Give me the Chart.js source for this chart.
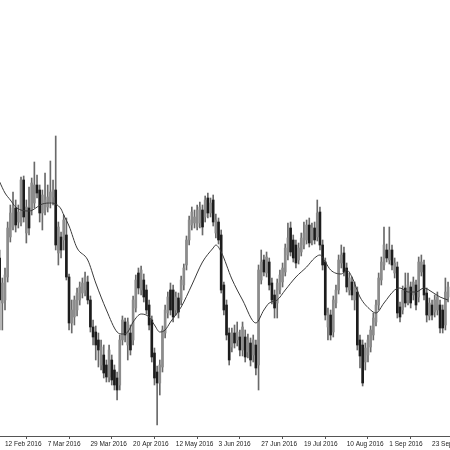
<!DOCTYPE html>
<html>
<head>
<meta charset="utf-8">
<script src="https://cdn.jsdelivr.net/npm/chart.js@4.4.1/dist/chart.umd.min.js"></script>
<style>
html,body{margin:0;padding:0;background:#fff;}
#c{display:block;}
</style>
</head>
<body>
<canvas id="c" width="450" height="450"></canvas>
<script>
// Daily candles, one per trading day (index 0 = 10 Feb 2016)
const openV = [
178,133,136,159,199,209,228,214,213,256,
203,228,226,233,251,246,223,226,229,234,
239,246,183,199,196,201,159,113,119,126,
136,143,146,154,136,109,104,96,71,81,
71,59,76,66,58,51,96,114,91,103,
96,128,163,146,156,146,131,116,83,64,
53,69,103,123,146,146,126,138,136,151,
171,196,211,213,209,213,226,219,238,223,
236,203,214,201,151,131,103,89,103,96,
99,86,99,84,93,81,91,71,156,176,
163,174,153,141,133,146,154,164,181,208,
196,191,176,184,191,196,211,196,208,199,
224,191,174,109,121,104,133,146,173,183,
168,146,154,136,144,96,91,74,81,89,
101,114,131,156,171,186,176,186,163,169,
129,126,148,136,149,141,151,139,164,171,
143,120,131,124,126,131,126,111,139];
const highV = [
186,158,168,214,231,244,236,231,259,260,
236,249,258,274,261,251,246,263,251,275,
256,300,214,204,221,218,162,136,140,148,
154,158,164,160,140,116,110,103,96,91,
76,91,81,71,64,101,120,118,118,111,
140,161,168,170,162,151,136,120,88,70,
76,110,131,144,153,151,144,143,160,172,
200,220,229,226,231,234,231,240,243,238,
241,222,218,206,154,136,108,108,111,114,
106,114,106,102,98,101,96,171,186,181,
184,178,158,146,157,166,173,192,213,214,
201,196,193,203,214,216,218,213,214,236,
229,196,178,128,126,140,151,181,191,189,
173,163,159,154,149,101,96,93,101,110,
123,136,163,179,209,192,209,191,178,174,
134,150,163,163,154,159,156,179,181,176,
148,138,136,141,144,136,131,158,154];
const lowV = [
106,106,126,154,194,206,204,208,210,214,
193,201,221,228,238,214,206,221,224,228,
231,186,171,178,186,156,106,103,111,120,
131,138,140,132,104,91,76,69,66,58,
54,54,51,46,36,46,91,94,76,81,
91,124,142,141,134,122,106,74,51,11,
41,64,98,118,121,114,121,118,131,146,
166,191,206,208,206,208,201,214,218,219,
210,198,192,143,121,96,71,84,88,90,
80,80,74,78,70,74,61,46,152,160,
159,146,132,118,118,142,149,160,176,180,
174,168,172,180,187,192,189,191,192,195,
186,166,116,96,96,99,128,142,168,160,
144,141,136,126,86,68,50,66,74,84,
96,110,126,151,166,174,172,166,158,118,
114,122,129,131,128,136,126,134,160,136,
114,116,116,119,121,103,103,106,134];
const closeV = [
136,153,161,208,223,228,211,224,256,219,
229,208,253,251,243,223,241,236,239,244,
246,191,209,186,216,159,113,126,136,143,
149,153,159,136,109,99,91,86,89,63,
59,86,56,51,46,96,116,101,114,86,
136,156,148,166,139,126,111,79,58,53,
71,106,126,139,126,119,139,124,156,168,
196,216,224,219,226,229,209,236,223,233,
214,216,196,146,126,101,76,103,93,104,
86,109,79,96,76,96,68,166,174,164,
179,151,136,128,153,161,168,188,198,184,
178,173,188,198,203,211,193,208,196,223,
191,171,121,123,101,136,146,176,181,164,
149,158,141,149,91,80,53,88,96,106,
118,131,158,174,191,178,186,171,173,123,
119,146,133,151,133,154,131,174,174,141,
121,133,121,136,139,108,108,144,149];

// Moving average line (at these candle indices)
const maIdx = [0,2,4,6,8,11,16,19,21,23,24,26,29,33,36,40,44,46,48,50,53,56,58,60,62,64,68,72,76,80,81,83,87,91,96,99,101,104,107,111,115,118,120,122,124,128,130,132,135,139,141,144,148,150,153,156,159,162,165,168];
const maVal = [254,243,236,229,226,225,232,233,232,227,221,210,188,176,153,126,104,102,104,114,122,119,111,104,106,114,129,151,174,188,191,184,157,136,113,126,133,136,146,159,169,178,181,174,166,162,166,159,139,126,123,133,146,148,144,144,148,144,139,136];

// Date axis
const tickIdx = [2,18,34,50,66,82,98,114,130,146,162];
const tickLabels = ['12 Feb 2016','7 Mar 2016','29 Mar 2016','20 Apr 2016','12 May 2016','3 Jun 2016','27 Jun 2016','19 Jul 2016','10 Aug 2016','1 Sep 2016','23 Sep 2016'];

const BULL = '#8c8c8c', BEAR = '#1c1c1c', WICK = '#6a6a6a';
const bodies = openV.map((o, i) => ({x: i, y: [o, closeV[i]]}));
const wicks = openV.map((o, i) => ({x: i, y: [lowV[i], highV[i]]}));
const bodyColors = openV.map((o, i) => closeV[i] >= o ? BULL : BEAR);
const ma = maIdx.map((x, k) => ({x: x, y: maVal[k]}));

new Chart(document.getElementById('c'), {
  type: 'bar',
  data: {
    datasets: [
      {type: 'line', data: ma, borderColor: '#3a3a3a', borderWidth: 1, pointRadius: 0,
       cubicInterpolationMode: 'monotone', fill: false, order: 0},
      {data: bodies, backgroundColor: bodyColors, borderWidth: 0, barThickness: 2,
       grouped: false, order: 1},
      {data: wicks, backgroundColor: WICK, borderWidth: 0, barThickness: 1,
       grouped: false, order: 2}
    ]
  },
  options: {
    responsive: false,
    animation: false,
    devicePixelRatio: 1,
    layout: {padding: 0},
    plugins: {legend: {display: false}, tooltip: {enabled: false}},
    scales: {
      x: {
        type: 'linear', min: 0.127, max: 168.73, offset: false,
        afterBuildTicks: s => { s.ticks = tickIdx.map(v => ({value: v})); },
        afterFit: s => { s.height = 14; s.paddingLeft = 0; s.paddingRight = 0; },
        grid: {drawOnChartArea: false, drawTicks: true, tickLength: 3, color: '#555'},
        border: {display: true, color: '#555', width: 1},
        ticks: {
          autoSkip: false, maxRotation: 0, minRotation: 0, align: 'start', padding: 1,
          color: '#222', font: {family: 'Liberation Sans', size: 6.5},
          callback: (v, i) => tickLabels[i]
        }
      },
      y: {display: false, min: 0, max: 436}
    }
  }
});
</script>
</body>
</html>
